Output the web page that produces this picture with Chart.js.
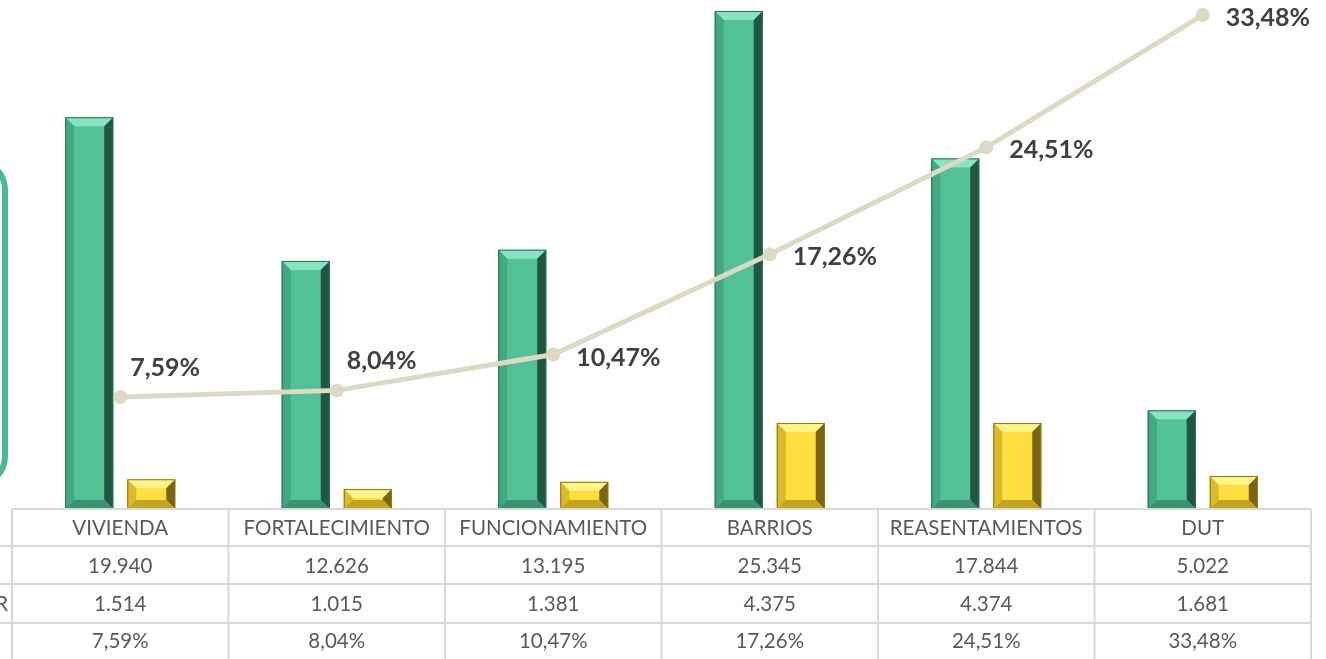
<!DOCTYPE html>
<html>
<head>
<meta charset="utf-8">
<script src="https://cdn.jsdelivr.net/npm/chart.js@4.4.1/dist/chart.umd.min.js"></script>
<style>
  html, body { margin: 0; padding: 0; background: #ffffff; }
  #wrap { width: 1326px; height: 659px; }
</style>
</head>
<body>
<div id="wrap"><canvas id="grafico" width="1326" height="659"></canvas></div>
<script>
// datos
const categorias = ['VIVIENDA', 'FORTALECIMIENTO', 'FUNCIONAMIENTO', 'BARRIOS', 'REASENTAMIENTOS', 'DUT'];
const apropiacion = [19940, 12626, 13195, 25345, 17844, 5022];
const compromisos = [1514, 1015, 1381, 4375, 4374, 1681];
const porcentaje = [7.59, 8.04, 10.47, 17.26, 24.51, 33.48];
const etiquetasFilas = ['APROPIACIÓN', 'COMPROMISOS VALOR', '% EJECUCIÓN'];

const verde = '#52C197';
const amarillo = '#FFDF3F';
const linea = '#DDD9C3';
const fuente = 'Lato, "Open Sans", sans-serif';

// separador de miles con punto
function miles(n) {
    return String(n).replace(/\B(?=(\d{3})+(?!\d))/g, '.');
}
function pct(v) {
    return v.toFixed(2).replace('.', ',') + '%';
}

// colores del bisel de cada serie
const biseles = {
    0: { top: '#86E4BF', left: '#44A882', right: '#1F5743', bottom: '#3A9270', edge: '#2A6E55' },
    1: { top: '#FFF48A', left: '#DDB92C', right: '#7A6410', bottom: '#C4A41E', edge: '#8C7414' }
};

const biselPlugin = {
    id: 'bisel',
    afterDatasetDraw(chart, args) {
        const c = biseles[args.index];
        if (!c) return;
        const ctx = chart.ctx;
        const b = 9;
        args.meta.data.forEach(bar => {
            const w = bar.width;
            const l = bar.x - w / 2, r = bar.x + w / 2;
            const t = bar.y, bo = bar.base;
            const bb = Math.min(b, (bo - t) / 2);
            ctx.save();
            const cara = (pts, col) => {
                ctx.beginPath();
                ctx.moveTo(pts[0][0], pts[0][1]);
                for (let i = 1; i < pts.length; i++) ctx.lineTo(pts[i][0], pts[i][1]);
                ctx.closePath();
                ctx.fillStyle = col;
                ctx.fill();
            };
            cara([[l, t], [r, t], [r - b, t + bb], [l + b, t + bb]], c.top);
            cara([[l, t], [l + b, t + bb], [l + b, bo - bb], [l, bo]], c.left);
            cara([[r, t], [r, bo], [r - b, bo - bb], [r - b, t + bb]], c.right);
            cara([[l, bo], [l + b, bo - bb], [r - b, bo - bb], [r, bo]], c.bottom);
            ctx.strokeStyle = c.edge;
            ctx.lineWidth = 1;
            ctx.strokeRect(l + 0.5, t + 0.5, w - 1, bo - t - 1);
            ctx.restore();
        });
    }
};

// etiquetas del porcentaje junto a cada punto
const etiquetasPlugin = {
    id: 'etiquetas',
    afterDatasetsDraw(chart) {
        const ctx = chart.ctx;
        const meta = chart.getDatasetMeta(2);
        ctx.save();
        ctx.font = 'bold 25px ' + fuente;
        ctx.fillStyle = '#404040';
        ctx.textAlign = 'left';
        ctx.textBaseline = 'middle';
        meta.data.forEach((p, i) => {
            if (i < 2) ctx.fillText(pct(porcentaje[i]), p.x + 10, p.y - 29);
            else ctx.fillText(pct(porcentaje[i]), p.x + 23, p.y + 3);
        });
        ctx.restore();
    }
};

// tabla de datos debajo del grafico y recuadro de la izquierda
const tablaPlugin = {
    id: 'tabla',
    afterDraw(chart) {
        const ctx = chart.ctx;
        const area = chart.chartArea;
        const x = chart.scales.x;
        const izq = area.left, der = area.right;
        const ancho = (der - izq) / categorias.length;
        const filas = [area.bottom, 546, 584, 623, 662];

        ctx.save();
        // recuadro verde redondeado
        ctx.strokeStyle = '#4FB88F';
        ctx.lineWidth = 6;
        ctx.beginPath();
        ctx.roundRect(-300, 160, 305, 326, 30);
        ctx.stroke();

        ctx.strokeStyle = '#D9D9D9';
        ctx.lineWidth = 2;
        ctx.beginPath();
        ctx.moveTo(izq, filas[0]);
        ctx.lineTo(der, filas[0]);
        for (let k = 1; k < 4; k++) {
            ctx.moveTo(0, filas[k]);
            ctx.lineTo(der, filas[k]);
        }
        for (let i = 0; i <= categorias.length; i++) {
            const xx = izq + i * ancho;
            ctx.moveTo(xx, filas[0]);
            ctx.lineTo(xx, 659);
        }
        ctx.stroke();

        ctx.font = '20.5px ' + fuente;
        ctx.fillStyle = '#595959';
        ctx.textAlign = 'center';
        ctx.textBaseline = 'middle';
        const series = [categorias, apropiacion.map(miles), compromisos.map(miles), porcentaje.map(pct)];
        series.forEach((fila, k) => {
            const yy = (filas[k] + filas[k + 1]) / 2 + 1;
            fila.forEach((txt, i) => {
                ctx.fillText(txt, x.getPixelForValue(i), k === 3 ? yy - 2 : yy);
            });
        });

        // nombres de las filas (quedan cortados por el borde)
        ctx.textAlign = 'left';
        const x0 = 8 - ctx.measureText(etiquetasFilas[1]).width;
        etiquetasFilas.forEach((txt, k) => {
            ctx.fillText(txt, x0, (filas[k + 1] + filas[k + 2]) / 2 + 1);
        });
        ctx.restore();
    }
};

new Chart(document.getElementById('grafico'), {
    type: 'bar',
    data: {
        labels: categorias,
        datasets: [
            {
                label: etiquetasFilas[0],
                data: apropiacion,
                backgroundColor: verde,
                yAxisID: 'y',
                order: 1,
                categoryPercentage: 0.573,
                barPercentage: 0.774
            },
            {
                label: etiquetasFilas[1],
                data: compromisos,
                backgroundColor: amarillo,
                yAxisID: 'y',
                order: 1,
                categoryPercentage: 0.573,
                barPercentage: 0.774
            },
            {
                type: 'line',
                label: etiquetasFilas[2],
                data: porcentaje,
                borderColor: linea,
                backgroundColor: linea,
                borderWidth: 5,
                pointRadius: 7,
                pointBorderWidth: 0,
                pointBackgroundColor: linea,
                yAxisID: 'y1',
                order: 0
            }
        ]
    },
    options: {
        responsive: false,
        devicePixelRatio: 1,
        animation: false,
        layout: { autoPadding: false, padding: { left: 12, right: 15, top: 0, bottom: 150 } },
        scales: {
            x: { display: false, offset: true },
            y: { display: false, min: 0, max: 25905 },
            y1: { display: false, min: 0, max: 34.5, position: 'right' }
        },
        plugins: {
            legend: { display: false },
            tooltip: { enabled: false }
        }
    },
    plugins: [biselPlugin, etiquetasPlugin, tablaPlugin]
});
</script>
</body>
</html>
